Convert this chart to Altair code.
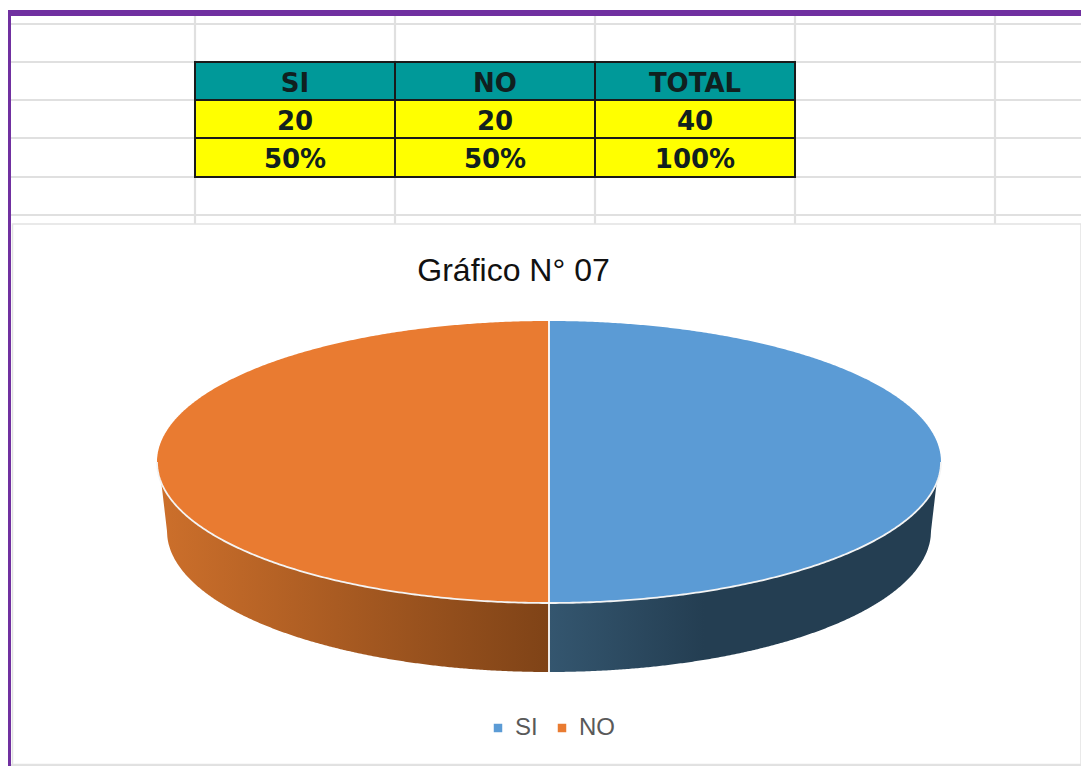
import numpy as np
import pandas as pd
import altair as alt

# ---- chart values
categories = ["SI", "NO"]
series_values = [20, 20]
table_headers = ["SI", "NO", "TOTAL"]
table_counts = ["20", "20", "40"]
table_percents = ["50%", "50%", "100%"]
chart_title = "Gráfico N° 07"
top_colors = ["#5B9BD5", "#E97B31"]

# ---- sheet layout (screen pixels, mapped through the scales below)
grid_rows = [24, 62, 100, 138, 177, 215, 765]
grid_cols = [195, 395, 595, 795, 995]
table_x = [195, 395, 595, 795]
table_y = [62, 100, 138, 177]
cx, cy, rx, ry = 549, 462, 392, 141
bx, by, brx = 549, 531, 382

xs = alt.Scale(domain=[8, 1081], nice=False, zero=False)
ys = alt.Scale(domain=[8, 766], nice=False, zero=False, reverse=True)
X = alt.X("x:Q", scale=xs, axis=None)
Y = alt.Y("y:Q", scale=ys, axis=None, stack=None)


def rect(x0, x1, y0, y1, **kw):
    d = pd.DataFrame({"x": [x0], "x1": [x1], "y": [y0], "y1": [y1]})
    return alt.Chart(d).mark_rect(**kw).encode(X, x2="x1:Q", y=Y, y2="y1:Q")


# slices: each half of the ellipse comes from its share of the total
shares = np.array(series_values, dtype=float) / sum(series_values)
sign = {"SI": 1, "NO": -1}
faces, sides = [], []
for cat, share in zip(categories, shares):
    th = np.linspace(0, (np.pi / 2) * (share / 0.5), 241)
    s = sign[cat]
    faces.append(pd.DataFrame({
        "cat": cat,
        "x": cx + s * rx * np.sin(th),
        "y": cy - ry * np.cos(th),
        "y1": cy + ry * np.cos(th),
    }).sort_values("x"))
    # front wall: from the lower rim of the top face to the lower rim of the base
    tw = np.linspace(0, np.arccos((483 - cy) / ry), 300)
    xw = rx * np.sin(tw)
    yw = cy + ry * np.cos(tw)
    xe = np.clip(xw / brx, -1, 1)
    yb = by + ry * np.sqrt(1 - xe ** 2)
    over = xw > brx
    yb[over] = by - (xw[over] - brx) / (xw.max() - brx) * (by - yw[-1])
    sides.append(pd.DataFrame({"x": cx + s * xw, "y": yw, "y1": yb}).sort_values("x"))

face_df = pd.concat(faces)


def grad(stops):
    return alt.LinearGradient(
        gradient="linear", x1=0, x2=1, y1=0, y2=0,
        stops=[alt.GradientStop(color=c, offset=o) for o, c in stops],
    )


side_si = alt.Chart(sides[0]).mark_area(
    color=grad([(0, "#34566F"), (0.4, "#243E52"), (1, "#243E52")]), interpolate="linear"
).encode(X, y=Y, y2="y1:Q")
side_no = alt.Chart(sides[1]).mark_area(
    color=grad([(0, "#CC6F2B"), (1, "#7F4317")]), interpolate="linear"
).encode(X, y=Y, y2="y1:Q")

top = alt.Chart(face_df).mark_area(interpolate="linear", orient="vertical").encode(
    X, y=Y, y2="y1:Q",
    color=alt.Color(
        "cat:N",
        scale=alt.Scale(domain=categories, range=top_colors),
        legend=alt.Legend(
            title=None, orient="none", direction="horizontal",
            legendX=478, legendY=708, symbolType="square", symbolSize=72,
            symbolStrokeWidth=0, labelFont="Liberation Sans", labelFontSize=24,
            labelColor="#595959", columnPadding=12, labelOffset=5, padding=0,
        ),
    ),
)

th_all = np.linspace(-np.pi / 2, np.pi / 2, 361)
rim = pd.DataFrame({"x": cx + rx * np.sin(th_all), "y": cy + ry * np.cos(th_all)})
rim_line = alt.Chart(rim).mark_line(color="#F4F4F4", strokeWidth=1.8, interpolate="linear").encode(
    X, y=Y, order="x:Q"
)
divider = alt.Chart(pd.DataFrame({"x": [cx], "y": [cy - ry], "y1": [by + ry]})).mark_rule(
    color="#FFFFFF", strokeWidth=1.8
).encode(X, y=Y, y2="y1:Q")

# sheet grid
hgrid = alt.Chart(pd.DataFrame({"y": grid_rows, "x": 11, "x1": 1081})).mark_rule(
    color="#E0E0E0", strokeWidth=2.2
).encode(X, x2="x1:Q", y=Y)
vgrid = alt.Chart(pd.DataFrame({"x": grid_cols, "y": 16, "y1": 766})).mark_rule(
    color="#E0E0E0", strokeWidth=2.2
).encode(X, y=Y, y2="y1:Q")
chart_box = rect(12.5, 1081, 224, 764.5, fill="#FFFFFF", stroke="#E2E2E2", strokeWidth=1.5)

# purple frame
frame_top = rect(8, 1081, 10, 16, color="#7030A0")
frame_left = rect(8, 11, 10, 766, color="#7030A0")

# table
rows = []
for r, vals in enumerate([table_headers, table_counts, table_percents]):
    for c, v in enumerate(vals):
        rows.append({
            "label": v,
            "x": table_x[c], "x1": table_x[c + 1],
            "y": table_y[r], "y1": table_y[r + 1],
            "xc": (table_x[c] + table_x[c + 1]) / 2,
            "yc": (table_y[r] + table_y[r + 1]) / 2 + 2.5,
            "fill": "#009999" if r == 0 else "#FFFF00",
        })
tbl = pd.DataFrame(rows)
cells = alt.Chart(tbl).mark_rect(stroke="#1A1A1A", strokeWidth=2).encode(
    X, x2="x1:Q", y=Y, y2="y1:Q", fill=alt.Fill("fill:N", scale=None)
)
cell_text = alt.Chart(tbl).mark_text(
    font="DejaVu Sans", fontWeight="bold", fontSize=26, align="center", baseline="middle", color="#10201F"
).encode(alt.X("xc:Q", scale=xs, axis=None), alt.Y("yc:Q", scale=ys, axis=None), text="label:N")

title = alt.Chart(pd.DataFrame({"x": [513.5], "y": [271], "t": [chart_title]})).mark_text(
    font="Liberation Sans", fontSize=32, align="center", baseline="middle", color="#111111"
).encode(X, y=Y, text="t:N")

chart = alt.layer(
    hgrid, vgrid, chart_box, frame_top, frame_left, cells, cell_text, title,
    side_si, side_no, top, rim_line, divider,
).properties(
    width=1073, height=758, padding=0, background="#FFFFFF",
    autosize=alt.AutoSizeParams(type="none"),
).configure_view(stroke=None)

chart.save("out.html", embed_options={"renderer": "svg", "actions": False})
